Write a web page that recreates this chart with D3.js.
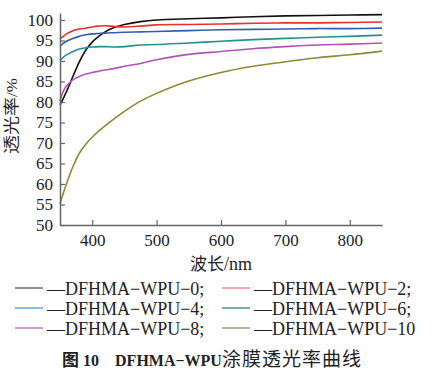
<!DOCTYPE html>
<html>
<head>
<meta charset="utf-8">
<script src="https://cdn.jsdelivr.net/npm/d3@7/dist/d3.min.js"></script>
<style>
  body { margin: 0; background: #fff; }
  text { font-family: "Liberation Serif", "DejaVu Serif", serif; fill: #222; }
  .cjk { font-family: "Noto Sans CJK SC", sans-serif; }
</style>
</head>
<body>
<div id="chart"></div>
<script>
// wavelength sample points (nm)
var wavelengths = [350, 355, 360, 365, 370, 380, 390, 400, 410, 420, 435, 450, 475, 500, 550, 600, 650, 700, 750, 800, 850];

// transmittance (%)
var wpu0  = [79.3, 80.8, 82.5, 84.3, 86.2, 89.8, 92.6, 94.6, 96.0, 97.1, 98.2, 98.9, 99.6, 100.0, 100.3, 100.5, 100.8, 101.0, 101.1, 101.2, 101.3];
var wpu2  = [95.4, 96.0, 96.6, 97.0, 97.4, 97.8, 98.0, 98.3, 98.5, 98.6, 98.4, 98.3, 98.5, 98.8, 98.9, 99.0, 99.2, 99.3, 99.3, 99.4, 99.5];
var wpu4  = [93.6, 94.3, 94.8, 95.2, 95.5, 96.0, 96.4, 96.6, 96.7, 96.8, 96.9, 97.0, 97.1, 97.2, 97.4, 97.6, 97.7, 97.8, 97.9, 97.9, 98.0];
var wpu6  = [90.2, 90.9, 91.5, 91.9, 92.3, 92.9, 93.2, 93.4, 93.5, 93.5, 93.4, 93.5, 93.9, 94.0, 94.4, 94.8, 95.2, 95.5, 95.8, 96.0, 96.3];
var wpu8  = [80.2, 82.6, 83.9, 84.7, 85.4, 86.2, 86.8, 87.2, 87.5, 87.8, 88.2, 88.7, 89.4, 90.3, 91.6, 92.3, 93.0, 93.5, 93.9, 94.1, 94.4];
var wpu10 = [55.2, 57.7, 60.0, 62.2, 64.2, 67.5, 69.7, 71.4, 72.9, 74.2, 76.0, 77.7, 80.2, 82.1, 85.1, 87.2, 88.7, 89.8, 90.8, 91.5, 92.4];

var seriesNames = ["DFHMA-WPU-0", "DFHMA-WPU-2", "DFHMA-WPU-4", "DFHMA-WPU-6", "DFHMA-WPU-8", "DFHMA-WPU-10"];
var lineColors   = ["#111111", "#e8302c", "#2f5db5", "#23918f", "#b055b5", "#8c8a35"];
var legendColors = ["#555555", "#f07a7a", "#3d9ad8", "#2e8b57", "#b569b8", "#8d8a6a"];

var xTicks = [400, 500, 600, 700, 800];
var yTicks = [50, 55, 60, 65, 70, 75, 80, 85, 90, 95, 100];

var allSeries = [wpu0, wpu2, wpu4, wpu6, wpu8, wpu10];

var width = 432, height = 371;
var svg = d3.select("#chart").append("svg")
  .attr("width", width)
  .attr("height", height);

// scales
var x = d3.scaleLinear().domain([350, 850]).range([60, 382]);
var y = d3.scaleLinear().domain([50, 101.7]).range([225, 13]);

// curves
var line = d3.line()
  .x(function (d) { return x(d[0]); })
  .y(function (d) { return y(d[1]); })
  .curve(d3.curveCatmullRom.alpha(0.5));

svg.append("g").selectAll("path")
  .data(allSeries)
  .join("path")
  .attr("d", function (vals) {
    return line(wavelengths.map(function (w, i) { return [w, vals[i]]; }));
  })
  .attr("fill", "none")
  .attr("stroke", function (d, i) { return lineColors[i]; })
  .attr("stroke-width", 1.6);

// axes (ticks point inward)
var xAxis = svg.append("g")
  .attr("transform", "translate(0," + y(50) + ")")
  .call(d3.axisBottom(x).tickValues(xTicks).tickSizeInner(-5).tickSizeOuter(0).tickPadding(9));
var yAxis = svg.append("g")
  .attr("transform", "translate(" + x(350) + ",0)")
  .call(d3.axisLeft(y).tickValues(yTicks).tickSizeInner(-5).tickSizeOuter(0).tickPadding(7));

[xAxis, yAxis].forEach(function (ax) {
  ax.select(".domain").attr("stroke", "#666").attr("stroke-width", 1.5);
  ax.selectAll(".tick line").attr("stroke", "#666").attr("stroke-width", 1.2);
  ax.selectAll(".tick text")
    .style("font-family", "'Liberation Serif', serif")
    .style("font-size", "17px")
    .attr("fill", "#333");
});

// axis titles
svg.append("text")
  .attr("transform", "translate(17,116) rotate(-90) scale(1,0.82)")
  .attr("text-anchor", "middle")
  .style("font-size", "17px")
  .html("<tspan class='cjk' style='font-size:19px'>透光率</tspan>/%");

svg.append("text")
  .attr("x", 221)
  .attr("y", 270)
  .attr("text-anchor", "middle")
  .style("font-size", "18px")
  .html("<tspan class='cjk' style='font-size:17px'>波长</tspan>/nm");

// legend
var legend = svg.append("g").selectAll("g")
  .data(seriesNames)
  .join("g")
  .attr("transform", function (d, i) {
    return "translate(" + (i % 2 === 0 ? 15 : 222) + "," + [288, 308, 328][Math.floor(i / 2)] + ")";
  });

legend.append("line")
  .attr("x1", 0).attr("x2", 28)
  .attr("y1", 0).attr("y2", 0)
  .attr("stroke", function (d, i) { return legendColors[i]; })
  .attr("stroke-width", 1.3);

legend.append("text")
  .attr("x", 32)
  .attr("y", 7)
  .style("font-size", "18px")
  .text(function (d, i) {
    return "\u2014" + d.replace(/-/g, "\u2212") + (i < 5 ? ";" : "");
  });

// caption
svg.append("text")
  .attr("x", 212)
  .attr("y", 366)
  .attr("text-anchor", "middle")
  .style("font-size", "16px")
  .html("<tspan font-weight='bold' class='cjk' style='font-size:17px'>\u56fe</tspan><tspan font-weight='bold'> 10\u2003DFHMA\u2212WPU</tspan><tspan class='cjk' style='font-size:19px' letter-spacing='1'>涂膜透光率曲线</tspan>");
</script>
</body>
</html>
